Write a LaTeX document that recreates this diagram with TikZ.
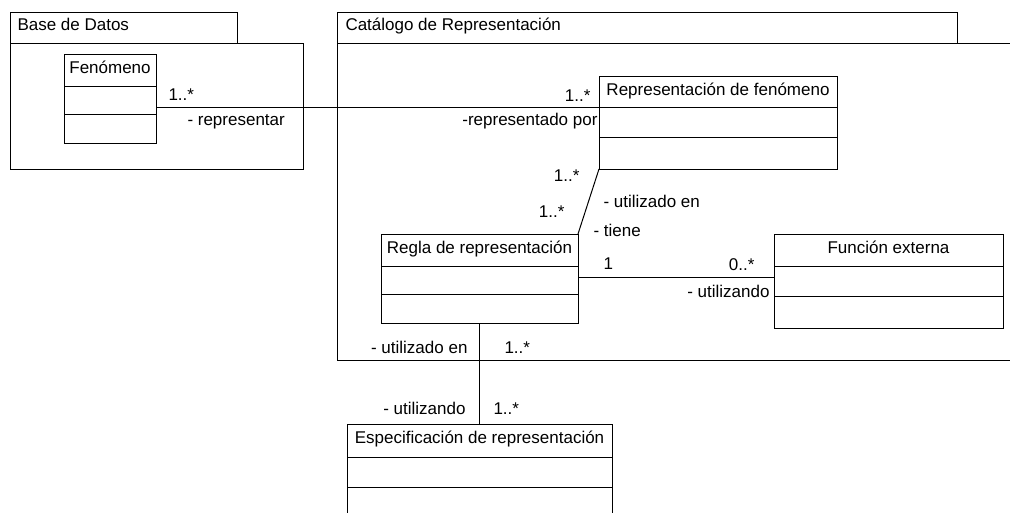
\documentclass[tikz,border=0pt]{standalone}
\usepackage{fontspec}
\setmainfont{Liberation Sans}
\usetikzlibrary{calc}

\tikzset{
  umlclass/.style={draw, inner sep=0pt, outer sep=0pt},
  classname/.style={anchor=base, inner sep=0pt},
  pkgname/.style={anchor=base west, inner sep=0pt},
  rolelabel/.style={inner sep=0pt},
}

% two compartment rules of a class box, measured from its top
\newcommand{\classrules}[3]{%
  \draw ([yshift=-#2pt]#1.north west) -- ([yshift=-#2pt]#1.north east);
  \draw ([yshift=-#3pt]#1.north west) -- ([yshift=-#3pt]#1.north east);
}

\begin{document}
\begin{tikzpicture}[x=1pt, y=-1pt, line width=1pt, font=\fontsize{17}{20}\selectfont]
    \useasboundingbox (0,0) rectangle (1010,512);
    \clip (0,0) rectangle (1010,512);

    % Packages
    \draw (10,12) rectangle (237,43);
    \draw (10,43) rectangle (303,169);
    \node[pkgname] (bdname) at (17,30) {Base de Datos};
    \draw (337,12) rectangle (957,43);
    \draw (337,43) rectangle (1030,360);
    \node[pkgname] (catname) at (345,30) {Catálogo de Representación};

    % Classes
    \node[umlclass, minimum width=92pt, minimum height=89pt] (fen) at (110,98.5) {};
    \classrules{fen}{32}{60}
    \node[classname] (fenname) at ([yshift=-19pt]fen.north) {Fenómeno};

    \node[umlclass, minimum width=238pt, minimum height=93pt] (rep) at (718,122.5) {};
    \classrules{rep}{31}{61}
    \node[classname] (repname) at ([yshift=-19pt]rep.north) {Representación de fenómeno};

    \node[umlclass, minimum width=197pt, minimum height=89pt] (regla) at (479.5,278.5) {};
    \classrules{regla}{32}{60}
    \node[classname] (reglaname) at ([yshift=-19pt]regla.north) {Regla de representación};

    \node[umlclass, minimum width=229pt, minimum height=94pt] (func) at (888.5,281) {};
    \classrules{func}{32}{62}
    \node[classname] (funcname) at ([yshift=-19pt]func.north) {Función externa};

    \node[umlclass, minimum width=265pt, minimum height=93pt] (espec) at (479.5,470.5) {};
    \classrules{espec}{33}{63}
    \node[classname] (especname) at ([yshift=-19pt]espec.north) {Especificación de representación};

    % Fenómeno -- Representación de fenómeno
    \coordinate (reph) at ([yshift=-31pt]rep.north west);
    \draw (fen.east |- reph) -- (reph);
    \node[rolelabel, anchor=base west] (fenmult) at (168,100) {1..*};
    \node[rolelabel, anchor=base west] (fenrole) at (187,125) {- representar};
    \node[rolelabel, anchor=base east] (repmult) at (591,101) {1..*};
    \node[rolelabel, anchor=base east] (reprole) at (598,125) {-representado por};

    % Representación de fenómeno -- Regla de representación
    \draw (rep.south west) -- (regla.north east);
    \node[rolelabel, anchor=base east] (repmultb) at (580,181) {1..*};
    \node[rolelabel, anchor=base east] (reglamult) at (565,217) {1..*};
    \node[rolelabel, anchor=base west] (reprolek) at (603,207) {- utilizado en};
    \node[rolelabel, anchor=base west] (reglarole) at (593,236) {- tiene};

    % Regla de representación -- Función externa
    \coordinate (reglar) at ([yshift=1.5pt]regla.east);
    \draw (reglar) -- (func.west |- reglar);
    \node[rolelabel, anchor=base west] (reglamultf) at (603,269) {1};
    \node[rolelabel, anchor=base east] (funcmult) at (755,270) {0..*};
    \node[rolelabel, anchor=base east] (funcrole) at (770,297) {- utilizando};

    % Regla de representación -- Especificación de representación
    \draw (regla.south) -- (espec.north);
    \node[rolelabel, anchor=base east] (reglarolee) at (468,353) {- utilizado en};
    \node[rolelabel, anchor=base west] (reglamulte) at (504,353) {1..*};
    \node[rolelabel, anchor=base east] (especrole) at (466,414) {- utilizando};
    \node[rolelabel, anchor=base west] (especmult) at (493,414) {1..*};
\end{tikzpicture}
\end{document}
